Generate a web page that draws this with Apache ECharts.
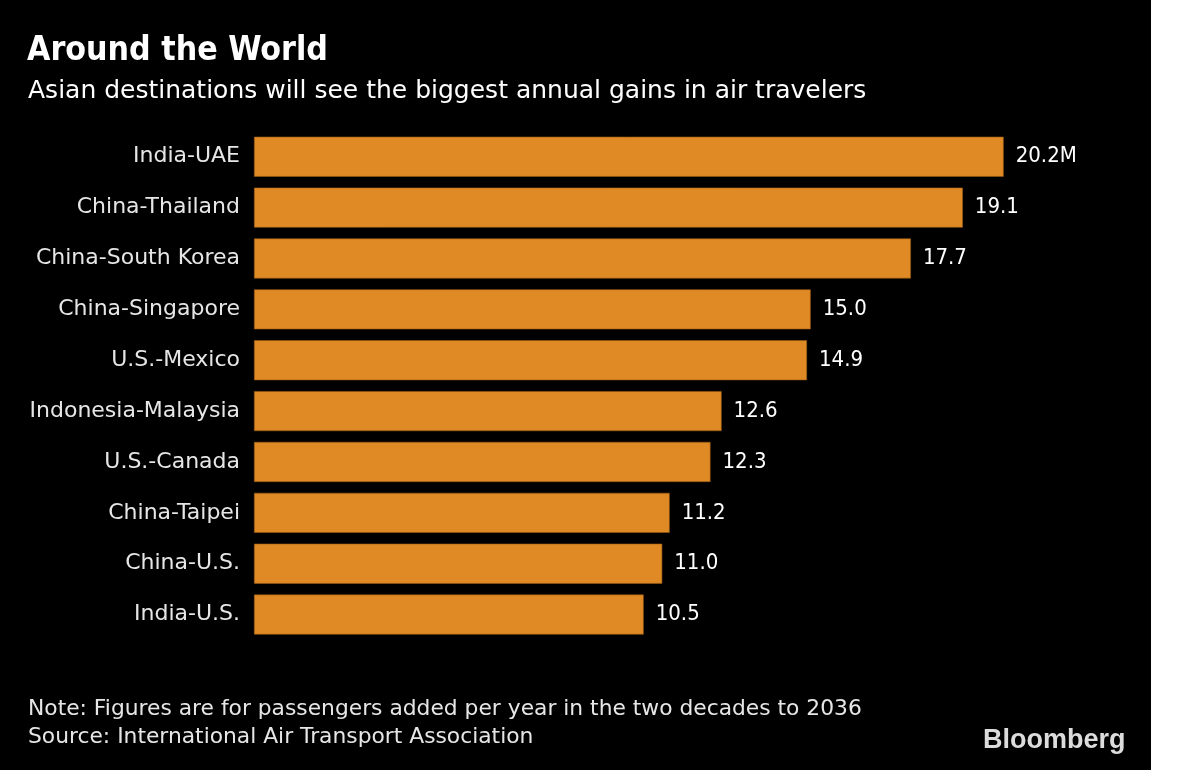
<!DOCTYPE html>
<html>
<head>
<meta charset="utf-8">
<script src="https://cdn.jsdelivr.net/npm/echarts@6/dist/echarts.min.js"></script>
<style>
html,body{margin:0;padding:0;background:#fff;}
#chart{width:1151px;height:770px;}
</style>
</head>
<body>
<div id="chart"></div>
<script>
const categories = ["India-UAE","China-Thailand","China-South Korea","China-Singapore","U.S.-Mexico","Indonesia-Malaysia","U.S.-Canada","China-Taipei","China-U.S.","India-U.S."];
const values = [20.2,19.1,17.7,15.0,14.9,12.6,12.3,11.2,11.0,10.5];
const titleText = "Around the World";
const subtitleText = "Asian destinations will see the biggest annual gains in air travelers";
const noteText = "Note: Figures are for passengers added per year in the two decades to 2036";
const sourceText = "Source: International Air Transport Association";

const COND = '"DejaVu Sans Condensed", "DejaVu Sans", sans-serif';
const REG = '"DejaVu Sans", sans-serif';
const chart = echarts.init(document.getElementById('chart'), null, {renderer:'canvas'});
chart.setOption({
  backgroundColor:'#000',
  animation:false,
  grid:{left:254, right:6.3, top:131.3, height:508.7},
  xAxis:{type:'value', min:0, max:24, show:false},
  yAxis:{type:'category', data:categories, inverse:true,
    axisLine:{show:false}, axisTick:{show:false}, splitLine:{show:false},
    axisLabel:{color:'#e6e6e6', fontSize:22, fontFamily:REG, margin:14}},
  series:[{type:'bar', data:values, barWidth:40,
    itemStyle:{color:'#DF8A25', borderColor:'#9a5a14', borderWidth:0.6},
    label:{show:true, position:'right', distance:12, color:'#fff', fontSize:22, fontFamily:COND,
      formatter:p=> p.value.toFixed(1) + (p.dataIndex===0?'M':'')}}],
  graphic:[
    {type:'text', left:27, top:34, style:{text:titleText, fill:'#fff', font:'bold 33.6px '+COND}},
    {type:'text', left:28, top:79, style:{text:subtitleText, fill:'#fff', font:'25px '+REG}},
    {type:'text', left:28, top:698, style:{text:noteText, fill:'#e6e6e6', font:'21.8px '+REG}},
    {type:'text', left:28, top:726, style:{text:sourceText, fill:'#e6e6e6', font:'21.8px '+REG}},
    {type:'text', left:983, top:727, style:{text:'Bloomberg', fill:'#dcdcdc', font:'bold 27px "Liberation Sans", Arial, sans-serif'}}
  ]
});
</script>
</body>
</html>
